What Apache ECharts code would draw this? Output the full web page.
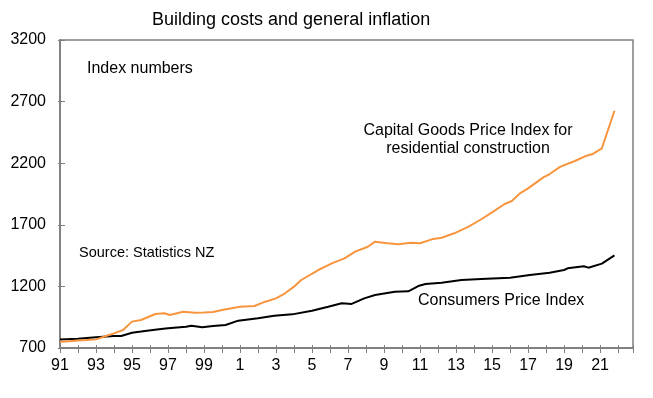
<!DOCTYPE html>
<html>
<head>
<meta charset="utf-8">
<script src="https://cdn.jsdelivr.net/npm/echarts@6/dist/echarts.min.js"></script>
<style>
  html, body { margin: 0; padding: 0; background: #fff; }
  #chart { width: 653px; height: 398px; }
</style>
</head>
<body>
<div id="chart"></div>
<script>
// Capital Goods Price Index for residential construction (orange)
const cgpiYears = [1991.0, 1991.5, 1992.0, 1992.5, 1993.0, 1993.6, 1994.0, 1994.5, 1995.0, 1995.5, 1996.3, 1996.8, 1997.1, 1997.85, 1998.5, 1999.0, 1999.5, 2000.0, 2001.0, 2001.8, 2002.4, 2003.0, 2003.5, 2004.0, 2004.4, 2005.35, 2006.1, 2006.8, 2007.4, 2008.1, 2008.5, 2009.2, 2009.8, 2010.5, 2011.0, 2011.65, 2012.2, 2012.9, 2013.7, 2014.4, 2015.0, 2015.7, 2016.1, 2016.55, 2017.0, 2017.85, 2018.2, 2018.8, 2019.6, 2020.2, 2020.6, 2021.1, 2021.8];
const cgpiValues = [751, 755, 760, 764, 770, 800, 819, 846, 914, 927, 976, 982, 968, 995, 987, 989, 992, 1008, 1035, 1041, 1076, 1103, 1144, 1198, 1252, 1333, 1387, 1428, 1482, 1522, 1563, 1550, 1542, 1555, 1550, 1582, 1595, 1631, 1685, 1745, 1801, 1869, 1893, 1955, 1996, 2085, 2112, 2172, 2218, 2258, 2275, 2321, 2626];

// Consumers Price Index (black)
const cpiYears = [1991.0, 1992.0, 1993.0, 1994.0, 1994.4, 1995.0, 1995.5, 1996.5, 1997.0, 1998.0, 1998.3, 1998.9, 1999.5, 2000.2, 2000.9, 2002.0, 2002.9, 2003.9, 2005.0, 2005.9, 2006.65, 2007.2, 2007.9, 2008.5, 2009.6, 2010.35, 2010.9, 2011.3, 2012.2, 2013.3, 2014.4, 2016.0, 2017.1, 2018.2, 2019.0, 2019.2, 2020.1, 2020.35, 2021.1, 2021.8];
const cpiValues = [770, 776, 787, 797, 798, 824, 833, 852, 860, 873, 881, 868, 878, 887, 922, 941, 962, 973, 1003, 1035, 1063, 1058, 1103, 1130, 1157, 1160, 1203, 1219, 1230, 1252, 1260, 1270, 1292, 1311, 1333, 1347, 1364, 1352, 1385, 1452];

const yTicks = [700, 1200, 1700, 2200, 2700, 3200];
const xMin = 1991, xMax = 2022.83;

const FONT = "'Liberation Sans', Arial, sans-serif";
const axisGray = '#808080';

const pairs = (xs, ys) => xs.map((x, i) => [x, ys[i]]);

const chart = echarts.init(document.getElementById('chart'), null, { renderer: 'canvas' });

const xBase = {
  type: 'value', min: xMin, max: xMax, interval: 1, position: 'bottom',
  splitLine: { show: false },
  axisLine: { show: true, onZero: false, lineStyle: { color: axisGray, width: 1.5 } }
};
const yBase = {
  type: 'value', min: yTicks[0], max: yTicks[yTicks.length - 1], interval: 500, position: 'left',
  splitLine: { show: false },
  axisLine: { show: true, onZero: false, lineStyle: { color: axisGray, width: 1.5 } }
};

chart.setOption({
  animation: false,
  backgroundColor: '#fff',
  grid: { left: 60, top: 40, right: 20, bottom: 50, show: true, borderColor: axisGray, borderWidth: 1.5, backgroundColor: 'transparent' },
  xAxis: [
    Object.assign({}, xBase, {
      axisTick: { show: true, inside: false, length: 5, lineStyle: { color: axisGray, width: 1 } },
      axisLabel: {
        show: true, margin: 10, color: '#000', fontSize: 16, fontFamily: FONT,
        formatter: v => (Math.abs(v - Math.round(v)) < 1e-6 && Math.round(v) % 2 === 1) ? String(Math.round(v) % 100) : ''
      }
    }),
    Object.assign({}, xBase, {
      offset: 0,
      axisTick: { show: true, inside: true, length: 3, lineStyle: { color: axisGray, width: 1 } },
      axisLabel: { show: false }
    })
  ],
  yAxis: [
    Object.assign({}, yBase, {
      axisTick: { show: true, inside: false, length: 2, lineStyle: { color: axisGray, width: 1 } },
      axisLabel: { show: true, margin: 14, color: '#000', fontSize: 16, fontFamily: FONT, formatter: v => String(v) }
    }),
    Object.assign({}, yBase, {
      offset: 0,
      axisTick: { show: true, inside: true, length: 5, lineStyle: { color: axisGray, width: 1 } },
      axisLabel: { show: false }
    })
  ],
  series: [
    {
      name: 'Capital Goods Price Index for residential construction',
      type: 'line', xAxisIndex: 0, yAxisIndex: 0,
      data: pairs(cgpiYears, cgpiValues),
      showSymbol: false, symbol: 'none',
      lineStyle: { color: '#F7953F', width: 2 },
      z: 3
    },
    {
      name: 'Consumers Price Index',
      type: 'line', xAxisIndex: 0, yAxisIndex: 0,
      data: pairs(cpiYears, cpiValues),
      showSymbol: false, symbol: 'none',
      lineStyle: { color: '#000000', width: 2 },
      z: 2
    }
  ],
  graphic: [
    { type: 'text', left: 152, top: 11, style: { text: 'Building costs and general inflation', fontSize: 18, fontFamily: FONT, fill: '#000' } },
    { type: 'text', left: 87, top: 61, style: { text: 'Index numbers', fontSize: 16, fontFamily: FONT, fill: '#000' } },
    { type: 'text', left: 79, top: 245, style: { text: 'Source: Statistics NZ', fontSize: 14.5, fontFamily: FONT, fill: '#000' } },
    { type: 'text', x: 468, y: 121, style: { text: 'Capital Goods Price Index for\nresidential construction', fontSize: 16, fontFamily: FONT, fill: '#000', align: 'center', lineHeight: 18.5 } },
    { type: 'text', left: 418, top: 293, style: { text: 'Consumers Price Index', fontSize: 16, fontFamily: FONT, fill: '#000' } }
  ]
});
</script>
</body>
</html>
